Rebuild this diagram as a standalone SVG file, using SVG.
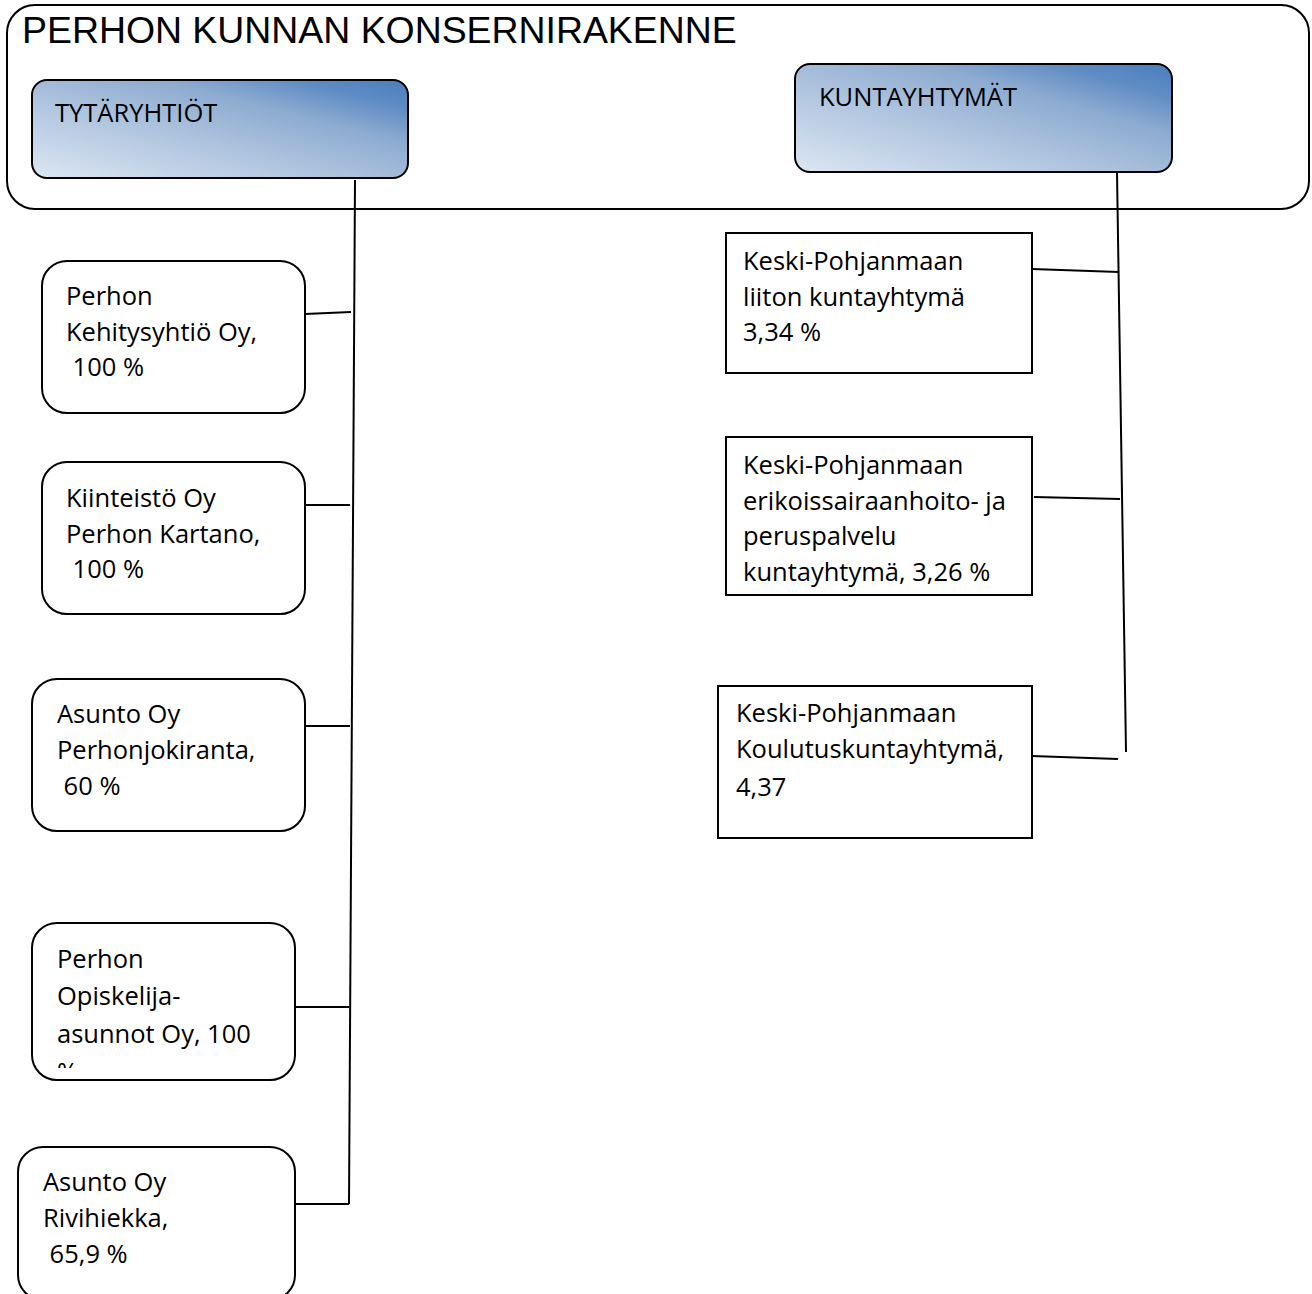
<svg xmlns="http://www.w3.org/2000/svg" width="1312" height="1294" viewBox="0 0 1312 1294">
<defs>
<linearGradient id="hdr" x1="0" y1="1" x2="1" y2="0">
<stop offset="0" stop-color="#dce6f2"/>
<stop offset="0.45" stop-color="#a9c0dc"/>
<stop offset="0.68" stop-color="#8caad0"/>
<stop offset="0.85" stop-color="#5f8cc4"/>
<stop offset="1" stop-color="#4a7dbd"/>
</linearGradient>
<clipPath id="clip4"><rect x="32" y="923" width="263" height="145"/></clipPath>
</defs>
<style>
.box{fill:#fff;stroke:#000;stroke-width:2}
.hdr{fill:url(#hdr);stroke:#000;stroke-width:2}
.t{font-family:"Open Sans","Noto Sans",sans-serif;font-size:25.5px;fill:#000}
.title{font-family:"Liberation Sans",Arial,sans-serif;font-size:37.4px;fill:#000}
.conn line{stroke:#000;stroke-width:2;fill:none}
</style>
<rect width="1312" height="1294" fill="#fff"/>
<g id="frame">
<rect class="box" x="7" y="5" width="1302" height="204" rx="28" ry="28"/>
<text class="title" x="22" y="43">PERHON KUNNAN KONSERNIRAKENNE</text>
</g>
<g id="tytaryhtiot">
<rect class="hdr" x="32" y="80" width="376" height="98" rx="15" ry="15"/>
<text class="t" x="55" y="122">TYTÄRYHTIÖT</text>
</g>
<g id="kuntayhtymat">
<rect class="hdr" x="795" y="64" width="377" height="108" rx="15" ry="15"/>
<text class="t" x="819" y="106">KUNTAYHTYMÄT</text>
</g>
<g class="conn" id="connectors">
<line x1="355" y1="180" x2="349" y2="1204"/>
<line x1="305" y1="314" x2="351" y2="312"/>
<line x1="305" y1="505" x2="350" y2="505"/>
<line x1="305" y1="726" x2="350" y2="726"/>
<line x1="295" y1="1007" x2="349" y2="1007"/>
<line x1="295" y1="1204" x2="349" y2="1204"/>
<line x1="1117" y1="172" x2="1126" y2="752"/>
<line x1="1032" y1="269" x2="1119" y2="272"/>
<line x1="1034" y1="497" x2="1120" y2="499"/>
<line x1="1032" y1="756" x2="1118" y2="759"/>
</g>
<g id="n1">
<rect class="box" x="42" y="261" width="263" height="152" rx="25" ry="25"/>
<text class="t"><tspan x="66" y="305">Perhon</tspan><tspan x="66" y="341">Kehitysyhtiö Oy,</tspan><tspan x="66" y="376"> 100 %</tspan></text>
</g>
<g id="n2">
<rect class="box" x="42" y="462" width="263" height="152" rx="25" ry="25"/>
<text class="t"><tspan x="66" y="507">Kiinteistö Oy</tspan><tspan x="66" y="543">Perhon Kartano,</tspan><tspan x="66" y="578"> 100 %</tspan></text>
</g>
<g id="n3">
<rect class="box" x="32" y="679" width="273" height="152" rx="25" ry="25"/>
<text class="t"><tspan x="57" y="723">Asunto Oy</tspan><tspan x="57" y="759">Perhonjokiranta,</tspan><tspan x="57" y="795"> 60 %</tspan></text>
</g>
<g id="n4">
<rect class="box" x="32" y="923" width="263" height="157" rx="25" ry="25"/>
<text class="t" clip-path="url(#clip4)"><tspan x="57" y="968">Perhon</tspan><tspan x="57" y="1005">Opiskelija-</tspan><tspan x="57" y="1043">asunnot Oy, 100</tspan><tspan x="57" y="1081">%</tspan></text>
</g>
<g id="n5">
<rect class="box" x="18" y="1147" width="277" height="153" rx="25" ry="25"/>
<text class="t"><tspan x="43" y="1191">Asunto Oy</tspan><tspan x="43" y="1227">Rivihiekka,</tspan><tspan x="43" y="1263"> 65,9 %</tspan></text>
</g>
<g id="r1">
<rect class="box" x="726" y="233" width="306" height="140"/>
<text class="t"><tspan x="743" y="270">Keski-Pohjanmaan</tspan><tspan x="743" y="306">liiton kuntayhtymä</tspan><tspan x="743" y="341">3,34 %</tspan></text>
</g>
<g id="r2">
<rect class="box" x="726" y="437" width="306" height="158"/>
<text class="t"><tspan x="743" y="474">Keski-Pohjanmaan</tspan><tspan x="743" y="510">erikoissairaanhoito- ja</tspan><tspan x="743" y="545">peruspalvelu</tspan><tspan x="743" y="581">kuntayhtymä, 3,26 %</tspan></text>
</g>
<g id="r3">
<rect class="box" x="718" y="686" width="314" height="152"/>
<text class="t"><tspan x="736" y="722">Keski-Pohjanmaan</tspan><tspan x="736" y="758">Koulutuskuntayhtymä,</tspan><tspan x="736" y="796">4,37</tspan></text>
</g>
</svg>
